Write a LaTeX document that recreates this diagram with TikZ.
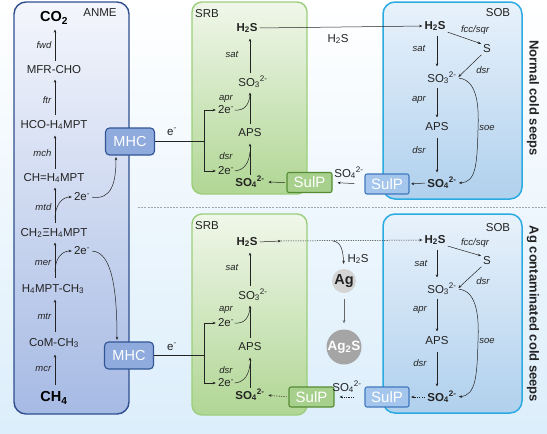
\documentclass[tikz,border=0pt]{standalone}
\usepackage{fontspec}
\setmainfont{Liberation Sans}
\usetikzlibrary{arrows.meta}
\newcommand{\sbs}[1]{\textsubscript{#1}}
\newcommand{\sps}[1]{\textsuperscript{#1}}
\definecolor{anmeB}{RGB}{47,79,143}
\definecolor{anmeTop}{RGB}{244,246,252}
\definecolor{anmeBot}{RGB}{166,186,228}
\definecolor{mhcF}{RGB}{143,170,220}
\definecolor{mhcB}{RGB}{50,85,150}
\definecolor{srbB}{RGB}{156,206,124}
\definecolor{srbTop}{RGB}{240,247,234}
\definecolor{srbBot}{RGB}{176,214,148}
\definecolor{sulpG}{RGB}{168,208,141}
\definecolor{sulpGB}{RGB}{84,140,52}
\definecolor{sobB}{RGB}{41,171,226}
\definecolor{sobTop}{RGB}{232,242,251}
\definecolor{sobBot}{RGB}{176,208,237}
\definecolor{sulpBF}{RGB}{165,198,236}
\definecolor{sulpBB}{RGB}{65,120,190}
\definecolor{bgBot}{RGB}{220,238,251}
\definecolor{ink}{RGB}{35,35,35}
\definecolor{agF}{RGB}{212,212,212}
\definecolor{agsF}{RGB}{165,165,165}
\tikzset{
  txt/.style={inner sep=0.5pt, font=\fontsize{11.5}{12}\selectfont, text=ink},
  txtb/.style={inner sep=0.5pt, font=\fontsize{11.5}{12}\selectfont\bfseries, text=ink},
  bigt/.style={inner sep=0.5pt, font=\fontsize{14.5}{15}\selectfont\bfseries, text=black},
  enz/.style={inner sep=0.5pt, font=\fontsize{9.5}{10}\selectfont\itshape, text=ink},
  ar/.style={draw=ink, line width=0.5pt, -{Stealth[length=3.2pt,width=2.6pt]}, shorten >=1.5pt, shorten <=1.5pt},
  ln/.style={draw=ink, line width=0.5pt},
  dotar/.style={ar, dash pattern=on 1.2pt off 1.2pt},
  mhc/.style={draw=mhcB, fill=mhcF, line width=1.1pt, rounded corners=4pt, minimum width=49pt, minimum height=27pt, inner sep=0pt, text=white, font=\fontsize{14.5}{15}\selectfont},
  sulpg/.style={draw=sulpGB, fill=sulpG, line width=1.1pt, rounded corners=2pt, minimum width=45pt, minimum height=20pt, inner sep=0pt, text=white, font=\fontsize{15}{15}\selectfont},
  sulpb/.style={draw=sulpBB, fill=sulpBF, line width=1.1pt, rounded corners=2pt, minimum width=44pt, minimum height=20pt, inner sep=0pt, text=white, font=\fontsize{15}{15}\selectfont},
  anmebox/.style={draw=anmeB, line width=1.4pt, rounded corners=12pt, top color=anmeTop, bottom color=anmeBot},
  srbbox/.style={draw=srbB, line width=1.4pt, rounded corners=10pt, top color=srbTop, bottom color=srbBot},
  sobbox/.style={draw=sobB, line width=1.5pt, rounded corners=12pt, top color=sobTop, bottom color=sobBot},
  sidet/.style={rotate=-90, inner sep=0pt, font=\fontsize{13}{14}\selectfont\bfseries, text=ink}
}
\begin{document}
\begin{tikzpicture}[x=1pt,y=1pt]
\useasboundingbox (0,0) rectangle (547,-434);
\path[top color=white, middle color=white!55!bgBot, bottom color=bgBot] (0,0) rectangle (547,-434);

% separator
\draw[gray!70, line width=0.6pt, dash pattern=on 2pt off 1.2pt] (138,-207) -- (547,-207);

% ================= ANME =================
\path[anmebox] (14,-2) rectangle (129,-414);
\node[txt] at (100,-13) {ANME};
\node[bigt] (co2) at (54,-18) {CO\sbs{2}};
\node[txt] (mfr) at (54,-70) {MFR-CHO};
\node[txt] (hco) at (54,-125) {HCO-H\sbs{4}MPT};
\node[txt] (chm) at (54,-178) {CH=H\sbs{4}MPT};
\node[txt] (ch2) at (54,-233) {CH\sbs{2}ΞH\sbs{4}MPT};
\node[txt] (h4c) at (53,-289) {H\sbs{4}MPT-CH\sbs{3}};
\node[txt] (com) at (54,-343) {CoM-CH\sbs{3}};
\node[bigt] (ch4) at (54,-398) {CH\sbs{4}};
\node[enz, anchor=east] at (52,-45) {fwd};
\node[enz, anchor=east] at (52,-100) {ftr};
\node[enz, anchor=east] at (52,-153) {mch};
\node[enz, anchor=east] at (52,-207) {mtd};
\node[enz, anchor=east] at (52,-263) {mer};
\node[enz, anchor=east] at (52,-316) {mtr};
\node[enz, anchor=east] at (52,-369) {mcr};
\draw[ar] (55,-386) -- (55,-353);
\draw[ar] (55,-333) -- (55,-298);
\draw[ar] (55,-279) -- (55,-241);
\draw[ar] (55,-224) -- (55,-186);
\draw[ar] (55,-170) -- (55,-134);
\draw[ar] (55,-116) -- (55,-78);
\draw[ar] (55,-62) -- (55,-28);

\node[mhc] (mhc1) at (130,-141.5) {MHC};
\node[mhc] (mhc2) at (129,-355.5) {MHC};
\node[txt] (tw1) at (82,-197) {2e\sps{-}};
\node[txt] (tw2) at (82,-251) {2e\sps{-}};
\draw[ar, shorten <=0pt] (55,-219) .. controls (55,-205) and (62,-197) .. (tw1.west);
\draw[ar] (tw1.east) .. controls (112,-200) and (116,-182) .. ([xshift=-14pt]mhc1.south);
\draw[ar, shorten <=0pt] (55,-272) .. controls (55,-258) and (62,-251) .. (tw2.west);
\draw[ar] (tw2.east) .. controls (112,-252) and (117,-290) .. ([xshift=-12pt]mhc2.north);

% ================= SRB upper =================
\path[srbbox] (192,-2) rectangle (307,-194);
\node[txt] at (207,-14) {SRB};
\node[txtb] (h2sA) at (247,-28) {H\sbs{2}S};
\node[txt] (so3A) at (253,-82) {SO\sbs{3}\sps{2-}};
\node[txt] (apsA) at (250,-133) {APS};
\node[txtb] (so4A) at (250,-182) {SO\sbs{4}\sps{2-}};
\node[enz] at (232,-54) {sat};
\node[enz] at (226,-99) {apr};
\node[enz] at (226,-156) {dsr};
\node[txt] (e2a) at (226,-110) {2e\sps{-}};
\node[txt] (e2b) at (226,-171) {2e\sps{-}};
\draw[ar] (250,-176) -- (250,-142);
\draw[ar] (250,-125) -- (250,-91);
\draw[ar] (250,-74) -- (250,-37);
\draw[ln] (e2a.east) .. controls (245,-111) and (249,-104) .. (250,-95);
\draw[ln] (e2b.east) .. controls (245,-170) and (249,-162) .. (250,-152);
\coordinate (j1) at (204,-141.5);
\draw[ln] (mhc1.east) -- (j1);
\draw[ar, shorten <=0pt] (j1) |- (e2a.west);
\draw[ar, shorten <=0pt] (j1) |- (e2b.west);
\node[txt] at (172,-132) {e\sps{-}};
\node[sulpg] (sulpA) at (309.5,-182.5) {SulP};
\draw[ar, shorten >=3pt] (sulpA.west) -- (so4A.east);

% ================= SOB upper =================
\path[sobbox] (383,-2) rectangle (522,-199);
\node[txt] at (498,-13) {SOB};
\node[txtb] (h2sB) at (435,-26) {H\sbs{2}S};
\node[txt] (sB) at (487,-49) {S};
\node[txt] (so3B) at (442,-78) {SO\sbs{3}\sps{2-}};
\node[txt] (apsB) at (437,-127) {APS};
\node[txtb] (so4B) at (442,-183) {SO\sbs{4}\sps{2-}};
\node[enz] at (475,-30) {fcc/sqr};
\node[enz] at (419,-48) {sat};
\node[enz] at (483,-70) {dsr};
\node[enz] at (419,-100) {apr};
\node[enz] at (487,-128) {soe};
\node[enz] at (419,-150) {dsr};
\node[sulpb] (sulpB) at (387,-184) {SulP};
\draw[ar] (437,-34) -- (437,-68);
\draw[ar] (437,-86) -- (437,-119);
\draw[ar] (437,-136) -- (437,-174);
\draw[ar] (h2sB.south east) -- (sB.north west);
\draw[ar] (sB.south west) -- (so3B.east);
\draw[ar] (so3B.east) .. controls (478,-80) and (479,-108) .. (478,-130) .. controls (477,-165) and (476,-182) .. (so4B.east);
\draw[ar] (so4B.west) -- (sulpB.east);
\node[sidet] at (533,-98) {Normal cold seeps};

% links upper
\draw[ar] (h2sA.east) -- (h2sB.west);
\node[txt] at (338,-39) {H\sbs{2}S};
\node[txt] at (349,-173) {SO\sbs{4}\sps{2-}};
\draw[ar, shorten <=10pt, shorten >=5pt] (sulpB.west) -- (sulpA.east);

% ================= SRB lower =================
\path[srbbox] (192,-214) rectangle (307,-415);
\node[txt] at (207,-226) {SRB};
\node[txtb] (h2sC) at (247,-242) {H\sbs{2}S};
\node[txt] (so3C) at (253,-295) {SO\sbs{3}\sps{2-}};
\node[txt] (apsC) at (250,-347) {APS};
\node[txtb] (so4C) at (250,-395) {SO\sbs{4}\sps{2-}};
\node[enz] at (232,-267) {sat};
\node[enz] at (226,-310) {apr};
\node[enz] at (226,-370) {dsr};
\node[txt] (e2c) at (226,-323) {2e\sps{-}};
\node[txt] (e2d) at (226,-383) {2e\sps{-}};
\draw[ar] (250,-389) -- (250,-356);
\draw[ar] (250,-339) -- (250,-304);
\draw[ar] (250,-287) -- (250,-251);
\draw[ln] (e2c.east) .. controls (245,-324) and (249,-317) .. (250,-308);
\draw[ln] (e2d.east) .. controls (245,-382) and (249,-374) .. (250,-364);
\coordinate (j2) at (204,-355.5);
\draw[ln] (mhc2.east) -- (j2);
\draw[ar, shorten <=0pt] (j2) |- (e2c.west);
\draw[ar, shorten <=0pt] (j2) |- (e2d.west);
\node[txt] at (172,-347) {e\sps{-}};
\node[sulpg] (sulpC) at (311.5,-397) {SulP};
\draw[dotar, shorten >=3pt] (sulpC.west) -- (so4C.east);

% Ag
\node[circle, fill=agF, inner sep=0pt, minimum size=24pt, font=\fontsize{14.5}{15}\selectfont\bfseries, text=ink] (ag) at (344,-281) {Ag};
\node[circle, fill=agsF, inner sep=0pt, minimum size=35pt, font=\fontsize{13.5}{14}\selectfont\bfseries, text=white] (ags) at (344,-347) {Ag\sbs{2}S};
\draw[ar, draw=gray!80!black, shorten <=6pt, shorten >=6pt] (ag.south) -- (ags.north);
\node[txt] at (358,-259) {H\sbs{2}S};

% ================= SOB lower =================
\path[sobbox] (383,-214) rectangle (522,-413);
\node[txt] at (498,-228) {SOB};
\node[txtb] (h2sD) at (435,-240) {H\sbs{2}S};
\node[txt] (sD) at (487,-261) {S};
\node[txt] (so3D) at (442,-289) {SO\sbs{3}\sps{2-}};
\node[txt] (apsD) at (437,-341) {APS};
\node[txtb] (so4D) at (442,-397) {SO\sbs{4}\sps{2-}};
\node[enz] at (475,-243) {fcc/sqr};
\node[enz] at (421,-263) {sat};
\node[enz] at (483,-281) {dsr};
\node[enz] at (420,-310) {apr};
\node[enz] at (487,-341) {soe};
\node[enz] at (420,-363) {dsr};
\node[sulpb] (sulpD) at (387,-397) {SulP};
\draw[ar] (437,-248) -- (437,-279);
\draw[ar] (437,-297) -- (437,-333);
\draw[ar] (437,-350) -- (437,-388);
\draw[ar] (h2sD.south east) -- (sD.north west);
\draw[ar] (sD.south west) -- (so3D.east);
\draw[ar] (so3D.east) .. controls (478,-291) and (479,-320) .. (478,-341) .. controls (477,-376) and (476,-395) .. (so4D.east);
\draw[dotar] (so4D.west) -- (sulpD.east);
\node[sidet] at (533,-314) {Ag contaminated cold seeps};

% links lower
\coordinate (hc1) at (281,-241);
\coordinate (hc2) at (333,-241);
\draw[ar, shorten >=0pt] (h2sC.east) -- (hc1);
\draw[dotar, shorten <=0pt] (hc1) -- (h2sD.west);
\draw[ar, shorten <=0pt, shorten >=5pt] (hc2) .. controls (341,-242) and (343,-250) .. (ag.north);
\node[txt] at (347,-387) {SO\sbs{4}\sps{2-}};
\draw[dotar, shorten <=10pt, shorten >=5pt] (sulpD.west) -- (sulpC.east);
\end{tikzpicture}
\end{document}
